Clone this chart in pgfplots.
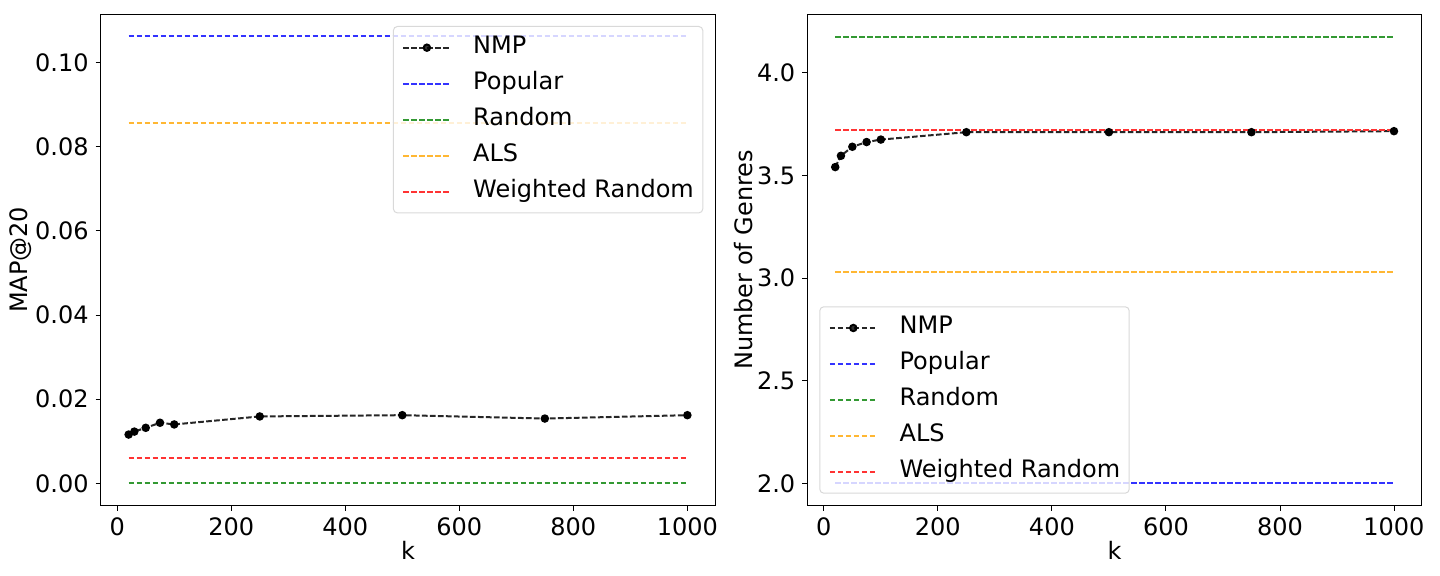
\documentclass[border=0pt]{standalone}
\usepackage{fontspec}
\setmainfont{DejaVu Sans}
\usepackage{pgfplots}
\pgfplotsset{compat=1.18}
\definecolor{mplgreen}{RGB}{51,153,51}
\definecolor{mplorange}{RGB}{255,183,51}
\definecolor{mplblue}{RGB}{51,51,255}
\definecolor{mplred}{RGB}{255,51,51}
\pgfplotsset{
  mystyle/.style={
    scale only axis, width=307.3pt, height=245.85pt,
    xmin=-29, xmax=1049, xtick={0,200,...,1000},
    tick align=outside, xtick pos=left, ytick pos=left,
    major tick length=2.5pt,
    tick style={black, line width=0.45pt},
    axis line style={line width=0.45pt},
    every axis plot/.append style={line width=1pt, dash pattern=on 2.8pt off 1.2pt},
    /pgf/number format/assume math mode=true,
    /pgf/number format/1000 sep={},
    tick label style={font=\fontsize{12}{14}\selectfont},
    label style={font=\fontsize{12}{14}\selectfont},
    xlabel={k},
    xlabel style={at={(axis description cs:0.5,-0.1104)}, anchor=base},
    legend cell align=left,
    legend image code/.code={\draw[mark repeat=2,mark phase=2,##1] plot coordinates {(0pt,0pt) (11.75pt,0pt) (23.5pt,0pt)};},
    legend style={font=\fontsize{12}{14}\selectfont, draw=black!15, rounded corners=2pt,
      fill=white, fill opacity=0.8, text opacity=1, line width=0.5pt,
      inner xsep=4.5pt, inner ysep=1.6pt,
      nodes={inner xsep=0pt, inner ysep=3pt, text height=9pt, text depth=3pt},
      /tikz/every odd column/.append style={column sep=10.9pt}},
  },
  nmp/.style={black!85, mark=*, mark size=1.6pt, mark options={solid, fill=black, draw=black}},
}
\begin{document}
\begin{tikzpicture}
\useasboundingbox (0,0) rectangle (720pt,288pt);
\begin{axis}[mystyle, at={(50.35pt,35.15pt)}, anchor=south west,
  ymin=-0.0053, ymax=0.1115, ytick={0,0.02,...,0.1},
  scaled y ticks=false,
  yticklabel style={/pgf/number format/.cd, fixed, fixed zerofill, precision=2},
  ylabel={MAP@20},
  ylabel style={at={(axis description cs:-0.1183,0.5)}, anchor=base},
  legend style={at={(1,1)}, anchor=north east, xshift=-6pt, yshift=-6pt}]
\addplot[nmp] coordinates {(20,0.0116) (30,0.0123) (50,0.0132) (75,0.0144) (100,0.0140) (250,0.0159) (500,0.0162) (750,0.0154) (1000,0.0162)};
\addlegendentry{NMP}
\addplot[mplblue] coordinates {(20,0.1062) (1000,0.1062)};
\addlegendentry{Popular}
\addplot[mplgreen] coordinates {(20,0.0) (1000,0.0)};
\addlegendentry{Random}
\addplot[mplorange] coordinates {(20,0.0855) (1000,0.0855)};
\addlegendentry{ALS}
\addplot[mplred] coordinates {(20,0.0060) (1000,0.0060)};
\addlegendentry{Weighted Random}
\end{axis}
\begin{axis}[mystyle, at={(403.65pt,35.15pt)}, anchor=south west,
  ymin=1.891, ymax=4.287, ytick={2.0,2.5,...,4.0},
  yticklabel style={/pgf/number format/.cd, fixed, fixed zerofill, precision=1},
  ylabel={Number of Genres},
  ylabel style={at={(axis description cs:-0.0884,0.5)}, anchor=base},
  legend style={at={(0,0)}, anchor=south west, xshift=6pt, yshift=6pt}]
\addplot[nmp] coordinates {(20,3.541) (30,3.596) (50,3.640) (75,3.663) (100,3.675) (250,3.711) (500,3.711) (750,3.711) (1000,3.716)};
\addlegendentry{NMP}
\addplot[mplblue] coordinates {(20,2.0) (1000,2.0)};
\addlegendentry{Popular}
\addplot[mplgreen] coordinates {(20,4.175) (1000,4.175)};
\addlegendentry{Random}
\addplot[mplorange] coordinates {(20,3.032) (1000,3.032)};
\addlegendentry{ALS}
\addplot[mplred] coordinates {(20,3.720) (1000,3.720)};
\addlegendentry{Weighted Random}
\end{axis}
\end{tikzpicture}
\end{document}
